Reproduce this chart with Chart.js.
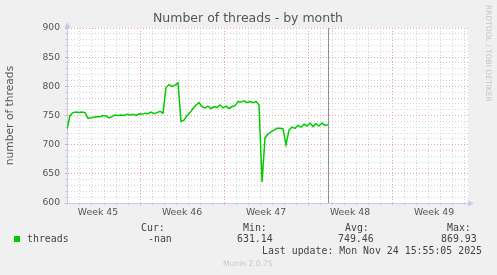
<!DOCTYPE html>
<html>
<head>
<meta charset="utf-8">
<script src="https://cdn.jsdelivr.net/npm/chart.js@4/dist/chart.umd.min.js"></script>
<style>
  html, body { margin: 0; padding: 0; background: #f0f0f0; }
  #wrap { width: 497px; height: 275px; }
</style>
</head>
<body>
<div id="wrap"><canvas id="threadsChart" width="497" height="275"></canvas></div>
<script>
// Munin "Number of threads - by month"

// x is in days, 0 = start of week 46
const weekLabels = ['Week 45', 'Week 46', 'Week 47', 'Week 48', 'Week 49'];
const firstDay = -6.083;
const stepDays = 0.25; // one sample every 6 hours
const nowDay = 15.69;

const threads = [
  727, 750, 755, 756, 755, 756, 755, 745, 746, 747,
  748, 748, 750, 749, 746, 748, 751, 750, 751, 750,
  752, 751, 752, 750, 753, 752, 754, 753, 756, 753,
  755, 757, 754, 798, 803, 800, 802, 806, 740, 742,
  750, 755, 762, 768, 772, 765, 763, 766, 762, 765,
  764, 768, 763, 766, 762, 765, 767, 774, 773, 775,
  772, 774, 772, 774, 768, 636, 712, 718, 722, 725,
  728, 728, 727, 700, 725, 730, 728, 733, 730, 735,
  732, 737, 731, 736, 732, 737, 733, 734
];

const yTitle = 'number of threads';
const chartTitle = 'Number of threads - by month';
const seriesName = 'threads';
const statLabels = ['Cur:', 'Min:', 'Avg:', 'Max:'];
const statValues = ['-nan', '631.14', '749.46', '869.93'];
const lastUpdate = 'Last update: Mon Nov 24 15:55:05 2025';
const versionText = 'Munin 2.0.75';
const sideText = 'RRDTOOL / TOBI OETIKER';

const lineGreen = '#00cc00';
const minorGrid = '#d4d4d4';
const majorGrid = '#eba4a4';
const axisColor = '#c8c8f0';

Chart.defaults.font.family = "'DejaVu Sans', sans-serif";

const isInt = v => Math.abs(v - Math.round(v)) < 1e-6;
const mod = (v, m) => ((v % m) + m) % m;
const isWeekCenter = v => {
  const r = mod(v + 3.5, 7);
  return r < 1e-6 || 7 - r < 1e-6;
};
const xGridColor = c => {
  if (!c.tick) return 'transparent';
  const v = c.tick.value;
  if (!isInt(v)) return 'transparent';
  return mod(Math.round(v), 7) === 0 ? majorGrid : minorGrid;
};
const yGridColor = c => (c.tick && c.tick.value % 50 === 0) ? majorGrid : minorGrid;

const muninDecor = {
  id: 'muninDecor',
  beforeDraw(chart) {
    const { ctx, chartArea: a } = chart;
    ctx.save();
    ctx.fillStyle = '#f0f0f0';
    ctx.fillRect(0, 0, chart.width, chart.height);
    ctx.fillStyle = '#ffffff';
    ctx.fillRect(a.left, a.top, a.right - a.left, a.bottom - a.top);
    ctx.restore();
  },
  afterDraw(chart) {
    const { ctx, chartArea: a } = chart;
    const xs = chart.scales.x;
    ctx.save();

    // "now" marker
    const nx = Math.round(xs.getPixelForValue(nowDay)) + 0.5;
    ctx.strokeStyle = '#909090';
    ctx.lineWidth = 1;
    ctx.beginPath();
    ctx.moveTo(nx, a.top);
    ctx.lineTo(nx, a.bottom);
    ctx.stroke();

    // axis arrows
    ctx.fillStyle = axisColor;
    ctx.beginPath();
    ctx.moveTo(a.left + 0.5, a.top - 6);
    ctx.lineTo(a.left - 2.5, a.top);
    ctx.lineTo(a.left + 3.5, a.top);
    ctx.fill();
    ctx.beginPath();
    ctx.moveTo(a.right + 6, a.bottom + 0.5);
    ctx.lineTo(a.right, a.bottom - 2.5);
    ctx.lineTo(a.right, a.bottom + 3.5);
    ctx.fill();

    // title
    ctx.fillStyle = '#555555';
    ctx.font = "12.5px 'DejaVu Sans'";
    ctx.textAlign = 'center';
    ctx.textBaseline = 'middle';
    ctx.fillText(chartTitle, 248, 19);

    // legend + stats
    ctx.fillStyle = lineGreen;
    ctx.fillRect(14, 236, 6, 6);
    ctx.fillStyle = '#444444';
    ctx.font = "9.9px 'DejaVu Sans Mono'";
    ctx.textAlign = 'left';
    ctx.fillText(seriesName, 27, 239.5);
    const labelX = [141, 243, 345, 447];
    const valueX = [148, 237, 338, 441];
    statLabels.forEach((t, i) => ctx.fillText(t, labelX[i], 228.5));
    statValues.forEach((t, i) => ctx.fillText(t, valueX[i], 239.5));
    ctx.fillText(lastUpdate, 262, 251);

    ctx.fillStyle = '#c8c8c8';
    ctx.font = "7.6px 'DejaVu Sans'";
    ctx.fillText(versionText, 223, 264.5);

    ctx.translate(488, 5);
    ctx.rotate(Math.PI / 2);
    ctx.fillStyle = '#c4c4c4';
    ctx.font = "7.5px 'DejaVu Sans'";
    ctx.textAlign = 'left';
    ctx.fillText(sideText, 0, 0);
    ctx.restore();
  }
};

new Chart(document.getElementById('threadsChart'), {
  type: 'line',
  data: {
    datasets: [{
      label: seriesName,
      data: threads.map((v, i) => ({ x: firstDay + i * stepDays, y: v })),
      borderColor: lineGreen,
      borderWidth: 1.5,
      pointRadius: 0,
      tension: 0,
      fill: false
    }]
  },
  options: {
    responsive: false,
    animation: false,
    layout: { padding: { top: 28, right: 29, left: 0, bottom: 0 } },
    plugins: {
      legend: { display: false },
      tooltip: { enabled: false }
    },
    scales: {
      x: {
        type: 'linear',
        min: firstDay,
        max: 27.33,
        afterFit(scale) { scale.height = 72; },
        afterBuildTicks(scale) {
          const ticks = [];
          for (let d = -6; d <= 27; d += 0.5) ticks.push({ value: d });
          scale.ticks = ticks;
        },
        grid: {
          drawTicks: true,
          tickLength: 2,
          lineWidth: 1,
          color: xGridColor,
          tickColor: xGridColor
        },
        border: { display: true, color: axisColor, dash: [1, 2] },
        ticks: {
          autoSkip: false,
          maxRotation: 0,
          minRotation: 0,
          padding: 2,
          color: '#555555',
          font: { size: 9.3 },
          callback: v => {
            if (!isWeekCenter(v)) return '';
            return weekLabels[Math.round((v + 3.5) / 7)] || '';
          }
        }
      },
      y: {
        min: 600,
        max: 900,
        afterFit(scale) { scale.width = 67; },
        grid: {
          drawTicks: true,
          tickLength: 2,
          lineWidth: 1,
          color: yGridColor,
          tickColor: yGridColor
        },
        border: { display: true, color: axisColor, dash: [1, 2] },
        title: {
          display: true,
          text: yTitle,
          color: '#555555',
          font: { size: 10.7 },
          padding: { top: 4, bottom: 0 }
        },
        ticks: {
          stepSize: 10,
          autoSkip: false,
          padding: 5,
          color: '#555555',
          font: { size: 9.2 },
          callback: v => (v % 50 === 0 ? String(v) : '')
        }
      }
    }
  },
  plugins: [muninDecor]
});
</script>
</body>
</html>
